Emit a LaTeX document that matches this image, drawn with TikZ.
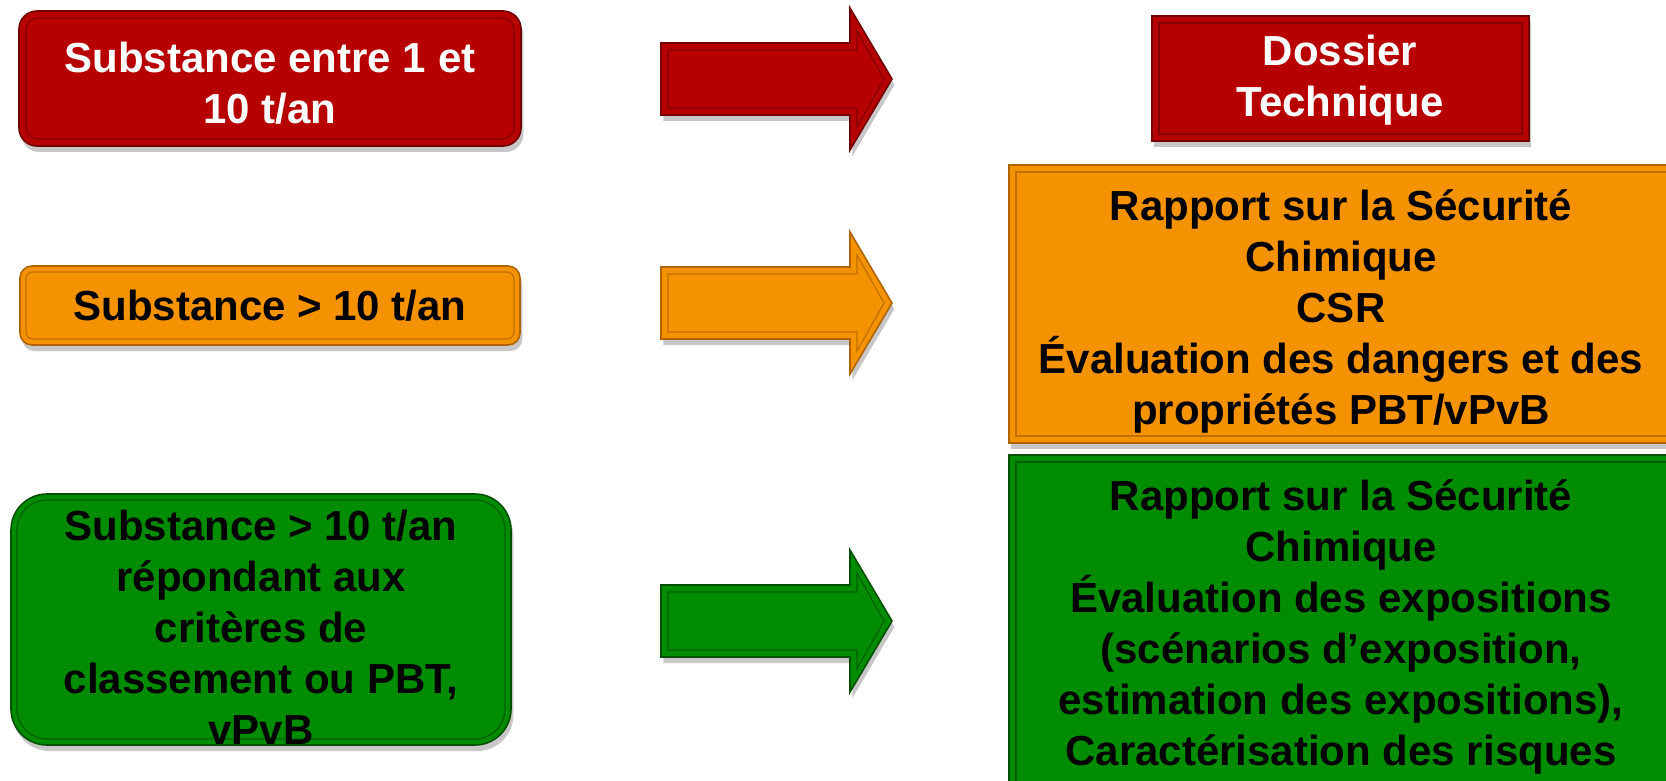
\documentclass[tikz,border=0pt]{standalone}
\usepackage{fontspec}
\setmainfont{Liberation Sans}
\usetikzlibrary{shadows}
\definecolor{cred}{RGB}{183,0,0}
\definecolor{credd}{RGB}{115,0,0}
\definecolor{corange}{RGB}{244,146,0}
\definecolor{coranged}{RGB}{175,100,0}
\definecolor{cgreen}{RGB}{0,140,0}
\definecolor{cgreend}{RGB}{0,80,0}
\begin{document}
\begin{tikzpicture}[x=0.5pt,y=-0.5pt,
  txt/.style={align=center, font=\fontsize{21}{25.5}\selectfont\bfseries, inner sep=0pt},
  shad/.style={drop shadow={shadow xshift=1.2pt, shadow yshift=-3pt, opacity=0.22, fill=black}},
  outer/.style={line width=0.8pt, shad},
  inner/.style={line width=0.6pt, opacity=0.75}
]
\useasboundingbox (0,0) rectangle (1666,781);
\clip (0,0) rectangle (1666,781);

% ---------- left boxes ----------
\path[outer, fill=cred, draw=credd, rounded corners=9pt] (19,11) rectangle (521,146);
\draw[inner, draw=credd, rounded corners=6pt] (26,18) rectangle (514,139);
\node[txt, text=white] (l1) at (270,83) {Substance entre 1 et\\10 t/an};

\path[outer, fill=corange, draw=coranged, rounded corners=6pt] (20,266) rectangle (520,345);
\draw[inner, draw=coranged, rounded corners=3.5pt] (26,272) rectangle (514,339);
\node[txt] (l2) at (270,306) {Substance > 10 t/an};

\path[outer, fill=cgreen, draw=cgreend, rounded corners=18pt] (11,494) rectangle (511,745);
\draw[inner, draw=cgreend, rounded corners=15pt] (17,500) rectangle (505,739);
\node[txt] (l3) at (261,627) {Substance > 10 t/an\\répondant aux\\critères de\\classement ou PBT,\\vPvB};

% ---------- arrows ----------
\foreach \c/\col/\dcol in {79/cred/credd, 303/corange/coranged, 621/cgreen/cgreend}{
  \path[outer, fill=\col, draw=\dcol]
    (661,{\c-36}) -- (850,{\c-36}) -- (850,{\c-71}) -- (892,\c) -- (850,{\c+71}) -- (850,{\c+36}) -- (661,{\c+36}) -- cycle;
  \draw[inner, draw=\dcol]
    (668,{\c-29}) -- (857,{\c-29}) -- (857,{\c-48}) -- (884,\c) -- (857,{\c+48}) -- (857,{\c+29}) -- (668,{\c+29}) -- cycle;
}

% ---------- right boxes ----------
\path[outer, fill=cred, draw=credd] (1152,16) rectangle (1529,141);
\draw[inner, draw=credd] (1159,23) rectangle (1522,134);
\node[txt, text=white] (r1) at (1340,80) {Dossier\\Technique};

\path[outer, fill=corange, draw=coranged] (1009,165) rectangle (1720,443);
\draw[inner, draw=coranged] (1016,172) rectangle (1713,436);
\node[txt] (r2) at (1341,311) {Rapport sur la Sécurité\\Chimique\\CSR\\Évaluation des dangers et des\\propriétés PBT/vPvB};

\path[outer, fill=cgreen, draw=cgreend] (1009,455) rectangle (1720,830);
\draw[inner, draw=cgreend] (1016,462) rectangle (1713,823);
\node[txt] (r3) at (1341,627) {Rapport sur la Sécurité\\Chimique\\Évaluation des expositions\\(scénarios d’exposition,\\estimation des expositions),\\Caractérisation des risques};
\end{tikzpicture}
\end{document}
